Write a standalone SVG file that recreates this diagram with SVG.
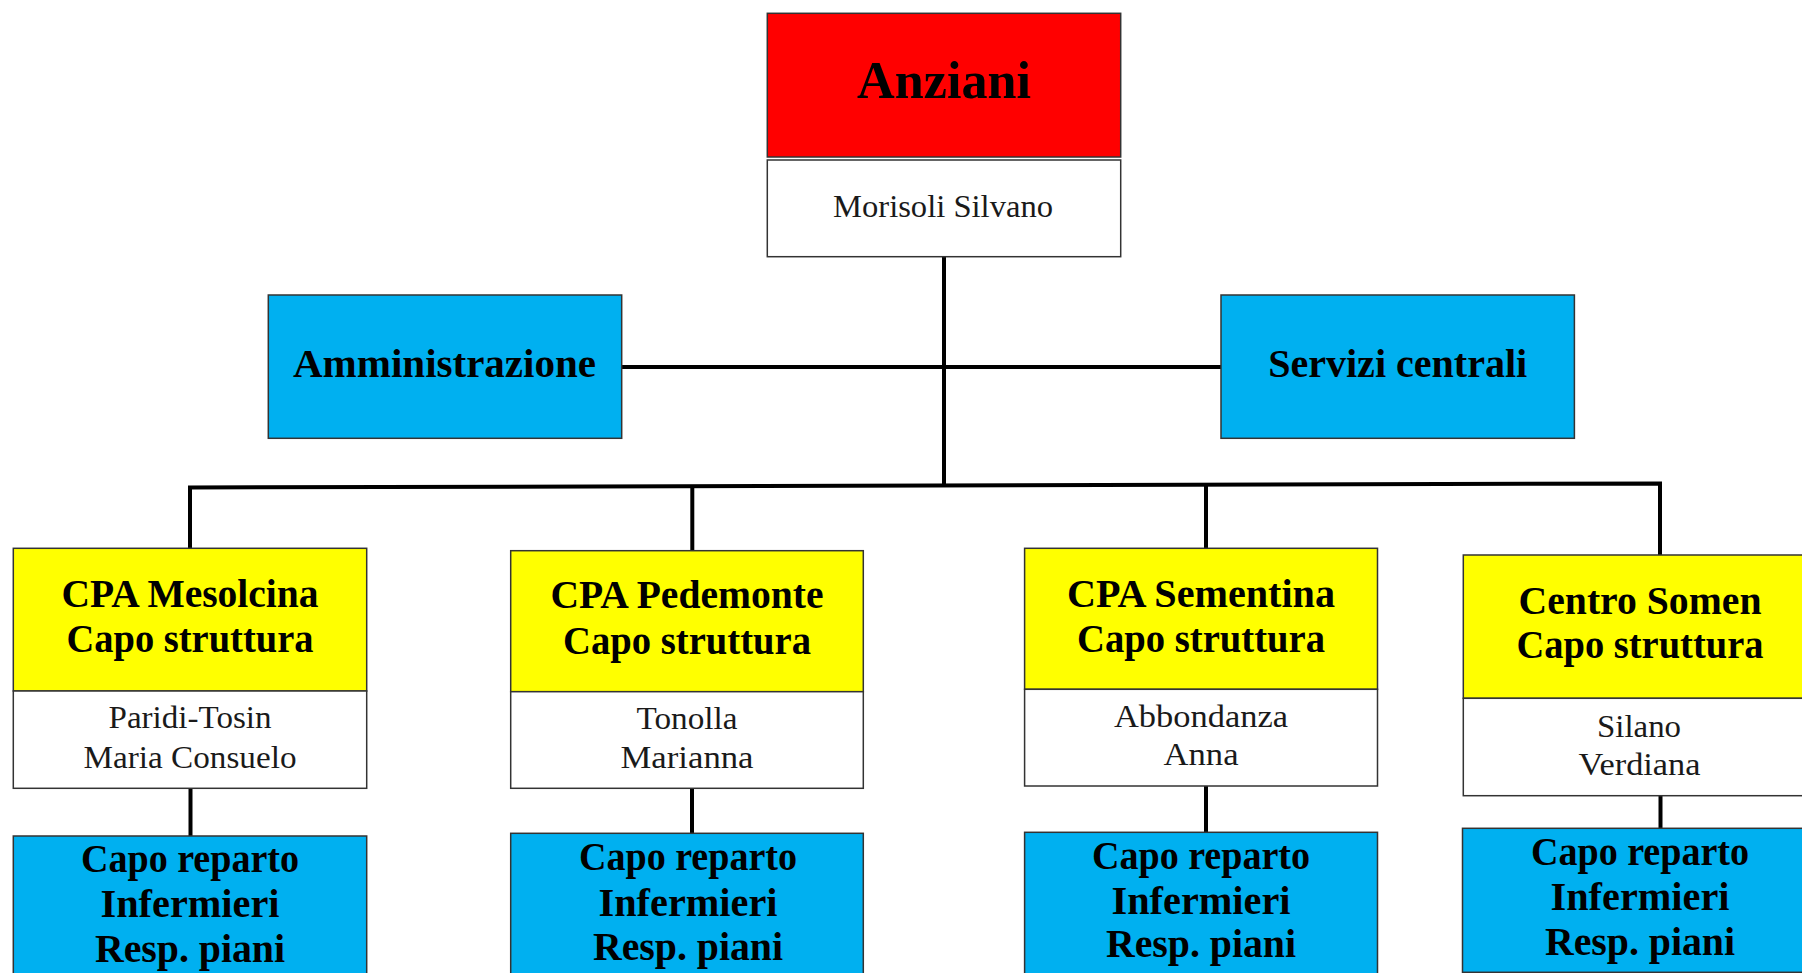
<svg xmlns="http://www.w3.org/2000/svg" width="1802" height="973" viewBox="0 0 1802 973">
<style>
.box{stroke:#333;stroke-width:1.5}
.red{fill:#FF0000}.yel{fill:#FFFF00}.blu{fill:#00B0F0}.wht{fill:#FFFFFF}
.t{font-family:"Liberation Serif","Times New Roman",serif;font-weight:bold;fill:#000;text-anchor:middle}
.n{font-family:"Liberation Serif","Times New Roman",serif;font-weight:normal;fill:#1a1a1a;text-anchor:middle;font-size:32px}
.c{fill:none;stroke:#000;stroke-width:4;stroke-linejoin:miter}
</style>
<rect width="1802" height="973" fill="#fff"/>
<g id="connectors">
<path class="c" d="M944,256.7 V485.5"/>
<path class="c" d="M621.7,367 H1221"/>
<path class="c" d="M190,548.3 V487.5 L1660,483.5 V555"/>
<path class="c" d="M692.3,486.5 V550.7"/>
<path class="c" d="M1206,484.5 V548.3"/>
<path class="c" d="M190.5,788.3 V836"/>
<path class="c" d="M692,788.3 V833.3"/>
<path class="c" d="M1206,786 V832.3"/>
<path class="c" d="M1660.5,795.7 V828.3"/>
</g>
<g id="anziani">
<rect class="box red" x="767.3" y="13.3" width="353.4" height="143.7"/>
<text class="t" x="944" y="98" font-size="53" textLength="174" lengthAdjust="spacingAndGlyphs">Anziani</text>
<rect class="box wht" x="767.3" y="160" width="353.4" height="96.7"/>
<text class="n" x="943" y="216.7" textLength="220" lengthAdjust="spacingAndGlyphs">Morisoli Silvano</text>
</g>
<g id="amministrazione">
<rect class="box blu" x="268.3" y="295" width="353.4" height="143.3"/>
<text class="t" x="444.5" y="376.7" font-size="40" textLength="303" lengthAdjust="spacingAndGlyphs">Amministrazione</text>
</g>
<g id="servizi">
<rect class="box blu" x="1221" y="295" width="353.4" height="143.3"/>
<text class="t" x="1397.7" y="376.7" font-size="40" textLength="259" lengthAdjust="spacingAndGlyphs">Servizi centrali</text>
</g>
<g id="mesolcina">
<rect class="box yel" x="13.3" y="548.3" width="353.4" height="142.7"/>
<text class="t" x="190" y="606.7" font-size="40" textLength="257" lengthAdjust="spacingAndGlyphs">CPA Mesolcina</text>
<text class="t" x="190" y="651.7" font-size="40" textLength="247" lengthAdjust="spacingAndGlyphs">Capo struttura</text>
<rect class="box wht" x="13.3" y="691" width="353.4" height="97.3"/>
<text class="n" x="190" y="728.3" textLength="163" lengthAdjust="spacingAndGlyphs">Paridi-Tosin</text>
<text class="n" x="190" y="767.7" textLength="213" lengthAdjust="spacingAndGlyphs">Maria Consuelo</text>
</g>
<g id="mesolcina-reparto">
<rect class="box blu" x="13.3" y="836" width="353.4" height="150"/>
<text class="t" x="190" y="871.7" font-size="40" textLength="218" lengthAdjust="spacingAndGlyphs">Capo reparto</text>
<text class="t" x="190" y="916.7" font-size="40" textLength="179" lengthAdjust="spacingAndGlyphs">Infermieri</text>
<text class="t" x="190" y="961.7" font-size="40" textLength="190" lengthAdjust="spacingAndGlyphs">Resp. piani</text>
</g>
<g id="pedemonte">
<rect class="box yel" x="510.7" y="550.7" width="352.6" height="141"/>
<text class="t" x="687" y="608.3" font-size="40" textLength="273" lengthAdjust="spacingAndGlyphs">CPA Pedemonte</text>
<text class="t" x="687" y="654.3" font-size="40" textLength="248" lengthAdjust="spacingAndGlyphs">Capo struttura</text>
<rect class="box wht" x="510.7" y="691.7" width="352.6" height="96.6"/>
<text class="n" x="687" y="729" textLength="101" lengthAdjust="spacingAndGlyphs">Tonolla</text>
<text class="n" x="687" y="767.7" textLength="133" lengthAdjust="spacingAndGlyphs">Marianna</text>
</g>
<g id="pedemonte-reparto">
<rect class="box blu" x="510.7" y="833.3" width="352.6" height="150"/>
<text class="t" x="688" y="870" font-size="40" textLength="218" lengthAdjust="spacingAndGlyphs">Capo reparto</text>
<text class="t" x="688" y="916" font-size="40" textLength="179" lengthAdjust="spacingAndGlyphs">Infermieri</text>
<text class="t" x="688" y="960" font-size="40" textLength="190" lengthAdjust="spacingAndGlyphs">Resp. piani</text>
</g>
<g id="sementina">
<rect class="box yel" x="1024.6" y="548.3" width="352.9" height="141"/>
<text class="t" x="1201" y="606.7" font-size="40" textLength="268" lengthAdjust="spacingAndGlyphs">CPA Sementina</text>
<text class="t" x="1201" y="651.7" font-size="40" textLength="248" lengthAdjust="spacingAndGlyphs">Capo struttura</text>
<rect class="box wht" x="1024.6" y="689.3" width="352.9" height="96.7"/>
<text class="n" x="1201" y="726.7" textLength="174" lengthAdjust="spacingAndGlyphs">Abbondanza</text>
<text class="n" x="1201" y="765" textLength="75" lengthAdjust="spacingAndGlyphs">Anna</text>
</g>
<g id="sementina-reparto">
<rect class="box blu" x="1024.6" y="832.3" width="352.9" height="150"/>
<text class="t" x="1201" y="869.3" font-size="40" textLength="218" lengthAdjust="spacingAndGlyphs">Capo reparto</text>
<text class="t" x="1201" y="914" font-size="40" textLength="179" lengthAdjust="spacingAndGlyphs">Infermieri</text>
<text class="t" x="1201" y="956.7" font-size="40" textLength="190" lengthAdjust="spacingAndGlyphs">Resp. piani</text>
</g>
<g id="somen">
<rect class="box yel" x="1463.3" y="555" width="354" height="143.3"/>
<text class="t" x="1640" y="614" font-size="40" textLength="243" lengthAdjust="spacingAndGlyphs">Centro Somen</text>
<text class="t" x="1640" y="658.3" font-size="40" textLength="247" lengthAdjust="spacingAndGlyphs">Capo struttura</text>
<rect class="box wht" x="1463.3" y="698.3" width="354" height="97.4"/>
<text class="n" x="1639" y="736.7" textLength="84" lengthAdjust="spacingAndGlyphs">Silano</text>
<text class="n" x="1639.5" y="775" textLength="122" lengthAdjust="spacingAndGlyphs">Verdiana</text>
</g>
<g id="somen-reparto">
<rect class="box blu" x="1462.5" y="828.3" width="354.5" height="144"/>
<text class="t" x="1640" y="865" font-size="40" textLength="218" lengthAdjust="spacingAndGlyphs">Capo reparto</text>
<text class="t" x="1640" y="910" font-size="40" textLength="179" lengthAdjust="spacingAndGlyphs">Infermieri</text>
<text class="t" x="1640" y="955" font-size="40" textLength="190" lengthAdjust="spacingAndGlyphs">Resp. piani</text>
</g>
</svg>
